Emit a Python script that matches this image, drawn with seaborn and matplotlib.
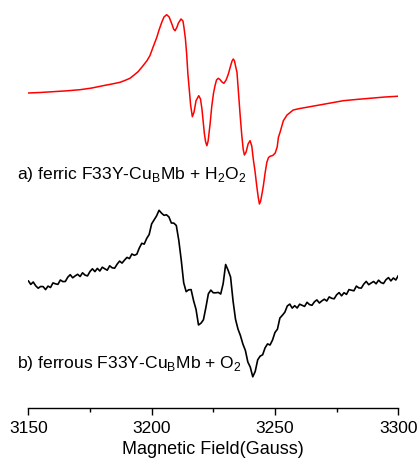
import matplotlib
matplotlib.use("Agg")
import matplotlib.pyplot as plt
from matplotlib.ticker import MultipleLocator
import seaborn as sns
import pandas as pd

# top trace: ferric F33Y-CuBMb + H2O2 (red, smooth)
field_a = [3150.0, 3154.7, 3160.0, 3165.7, 3171.0, 3175.8, 3180.3, 3183.9, 3187.2, 3189.6,
           3191.2, 3192.9, 3194.5, 3196.1, 3198.1, 3199.3, 3200.6, 3202.1, 3203.0, 3204.1,
           3205.0, 3206.1, 3207.1, 3208.2, 3208.9, 3209.5, 3210.3, 3210.8, 3211.9, 3212.7,
           3213.1, 3213.7, 3214.2, 3214.7, 3215.3, 3215.8, 3216.5, 3217.2, 3218.0, 3219.1,
           3219.8, 3220.4, 3221.4, 3221.9, 3222.4, 3222.9, 3223.7, 3224.4, 3225.1, 3225.7,
           3226.3, 3227.0, 3227.7, 3228.5, 3229.3, 3230.2, 3231.1, 3232.0, 3232.6, 3233.1,
           3233.6, 3234.1, 3234.6, 3235.1, 3235.9, 3236.5, 3237.1, 3237.6, 3238.3, 3239.1,
           3239.9, 3240.6, 3241.2, 3241.9, 3242.6, 3243.2, 3243.7, 3244.2, 3244.8, 3245.3,
           3246.0, 3246.7, 3247.4, 3248.0, 3249.1, 3250.1, 3250.9, 3251.4, 3252.1, 3253.4,
           3254.9, 3257.4, 3260.1, 3264.2, 3270.3, 3277.7, 3283.7, 3289.9, 3294.6, 3299.4,
           3300.0]
signal_a = [1.0, 1.5, 2.3, 3.2, 4.3, 6.0, 8.3, 10.0, 11.7, 14.0,
            15.7, 19.0, 22.3, 27.0, 33.3, 38.3, 47.0, 56.7, 64.0, 71.7,
            77.0, 79.3, 77.0, 70.0, 65.0, 63.3, 67.0, 70.7, 75.0, 73.0,
            66.7, 55.0, 40.0, 20.0, 3.3, -11.0, -22.7, -18.0, -6.7, -1.7,
            -5.0, -15.0, -40.0, -48.0, -51.7, -47.0, -30.0, -11.7, 1.0, 8.3,
            14.0, 15.7, 14.5, 12.0, 10.7, 14.0, 20.0, 28.0, 33.0, 35.0,
            33.0, 27.0, 21.7, 5.0, -21.7, -40.0, -55.0, -61.0, -58.0, -50.0,
            -46.7, -52.0, -65.0, -77.0, -91.7, -103.0, -110.0, -107.0, -99.0, -91.7,
            -79.0, -68.3, -63.5, -62.3, -61.5, -59.0, -53.0, -43.3, -38.0, -26.7,
            -21.0, -16.0, -14.5, -12.7, -10.0, -6.7, -5.3, -4.0, -3.0, -2.3,
            -2.2]

# bottom trace: ferrous F33Y-CuBMb + O2 (black, noisy), one point per gauss
field_b = [3150, 3151, 3152, 3153, 3154, 3155, 3156, 3157, 3158, 3159,
           3160, 3161, 3162, 3163, 3164, 3165, 3166, 3167, 3168, 3169,
           3170, 3171, 3172, 3173, 3174, 3175, 3176, 3177, 3178, 3179,
           3180, 3181, 3182, 3183, 3184, 3185, 3186, 3187, 3188, 3189,
           3190, 3191, 3192, 3193, 3194, 3195, 3196, 3197, 3198, 3199,
           3200, 3201, 3202, 3203, 3204, 3205, 3206, 3207, 3208, 3209,
           3210, 3211, 3212, 3213, 3214, 3215, 3216, 3217, 3218, 3219,
           3220, 3221, 3222, 3223, 3224, 3225, 3226, 3227, 3228, 3229,
           3230, 3231, 3232, 3233, 3234, 3235, 3236, 3237, 3238, 3239,
           3240, 3241, 3242, 3243, 3244, 3245, 3246, 3247, 3248, 3249,
           3250, 3251, 3252, 3253, 3254, 3255, 3256, 3257, 3258, 3259,
           3260, 3261, 3262, 3263, 3264, 3265, 3266, 3267, 3268, 3269,
           3270, 3271, 3272, 3273, 3274, 3275, 3276, 3277, 3278, 3279,
           3280, 3281, 3282, 3283, 3284, 3285, 3286, 3287, 3288, 3289,
           3290, 3291, 3292, 3293, 3294, 3295, 3296, 3297, 3298, 3299,
           3300]
signal_b = [3.2, -0.4, 2.0, -1.8, -4.2, -2.5, -2.6, -5.6, -2.1, -3.5,
            1.1, 0.2, -0.4, 4.0, 2.4, 2.5, 6.8, 9.3, 6.2, 8.1,
            9.7, 7.5, 11.2, 8.9, 8.1, 12.5, 15.2, 12.4, 15.6, 13.0,
            16.8, 15.2, 13.8, 18.2, 16.2, 15.8, 19.8, 22.9, 20.9, 23.9,
            26.6, 25.4, 30.0, 28.7, 29.8, 36.0, 40.7, 39.9, 45.6, 49.5,
            60.1, 64.2, 68.1, 73.7, 70.9, 68.7, 69.2, 67.1, 61.0, 60.9,
            58.5, 43.8, 24.0, 1.2, -7.7, -5.8, -5.6, -16.6, -25.4, -41.0,
            -39.2, -35.8, -23.4, -9.8, -6.1, -8.8, -8.8, -8.4, -10.0, 0.4,
            19.5, 13.8, 7.0, -16.8, -35.2, -45.0, -51.6, -60.1, -66.4, -78.0,
            -83.2, -92.8, -87.4, -75.8, -72.1, -70.8, -63.8, -59.9, -61.0, -56.1,
            -48.5, -45.2, -34.0, -31.3, -28.2, -22.0, -20.1, -24.1, -21.7, -24.0,
            -20.2, -21.3, -22.4, -18.3, -20.6, -21.3, -17.8, -15.9, -19.0, -16.9,
            -15.2, -17.0, -12.9, -14.3, -14.8, -10.8, -8.6, -11.8, -8.7, -10.4,
            -5.6, -6.2, -6.8, -2.1, -3.9, -4.1, -0.1, 2.6, -0.7, 1.0,
            2.5, 0.2, 3.8, 1.4, 0.5, 4.3, 6.4, 3.1, 6.0, 4.0,
            8.5]

labels = [r"a) ferric F33Y-Cu$_\mathregular{B}$Mb + H$_\mathregular{2}$O$_\mathregular{2}$",
          r"b) ferrous F33Y-Cu$_\mathregular{B}$Mb + O$_\mathregular{2}$"]

sns.set_style("white")
plt.rcParams["font.family"] = ["Liberation Sans", "DejaVu Sans"]
plt.rcParams["mathtext.fontset"] = "custom"
plt.rcParams["mathtext.rm"] = "Liberation Sans"
plt.rcParams["text.color"] = "black"
plt.rcParams["xtick.color"] = "black"
plt.rcParams["axes.labelcolor"] = "black"

offset_b = -190  # vertical stacking of the second spectrum

df_a = pd.DataFrame({"field": field_a, "signal": signal_a})
df_b = pd.DataFrame({"field": field_b, "signal": [v + offset_b for v in signal_b]})

fig = plt.figure(figsize=(4.2, 4.6), dpi=100)
ax = fig.add_axes([28.3 / 420, 51 / 460, 370 / 420, 409 / 460])

sns.lineplot(data=df_a, x="field", y="signal", color="#ff0000", lw=1.1, estimator=None, ax=ax)
sns.lineplot(data=df_b, x="field", y="signal", color="black", lw=1.2, estimator=None, ax=ax)

ax.text(3145.4, -84, labels[0], fontsize=12.6, va="baseline", ha="left")
ax.text(3145.4, -273, labels[1], fontsize=12.6, va="baseline", ha="left")

ax.set_xlim(3150, 3300)
ax.set_ylim(-314, 95)
ax.xaxis.set_major_locator(MultipleLocator(50))
ax.xaxis.set_minor_locator(MultipleLocator(25))
ax.tick_params(axis="x", which="major", direction="out", length=5, width=1, labelsize=12.5, pad=4, bottom=True)
ax.tick_params(axis="x", which="minor", direction="out", length=3, width=1, bottom=True)
ax.set_yticks([])
ax.set_ylabel("")
ax.set_xlabel("Magnetic Field(Gauss)", fontsize=13, labelpad=3)
for side in ["left", "right", "top"]:
    ax.spines[side].set_visible(False)
ax.spines["bottom"].set_color("black")
ax.spines["bottom"].set_linewidth(1)

fig.savefig("out.png", dpi=100)
